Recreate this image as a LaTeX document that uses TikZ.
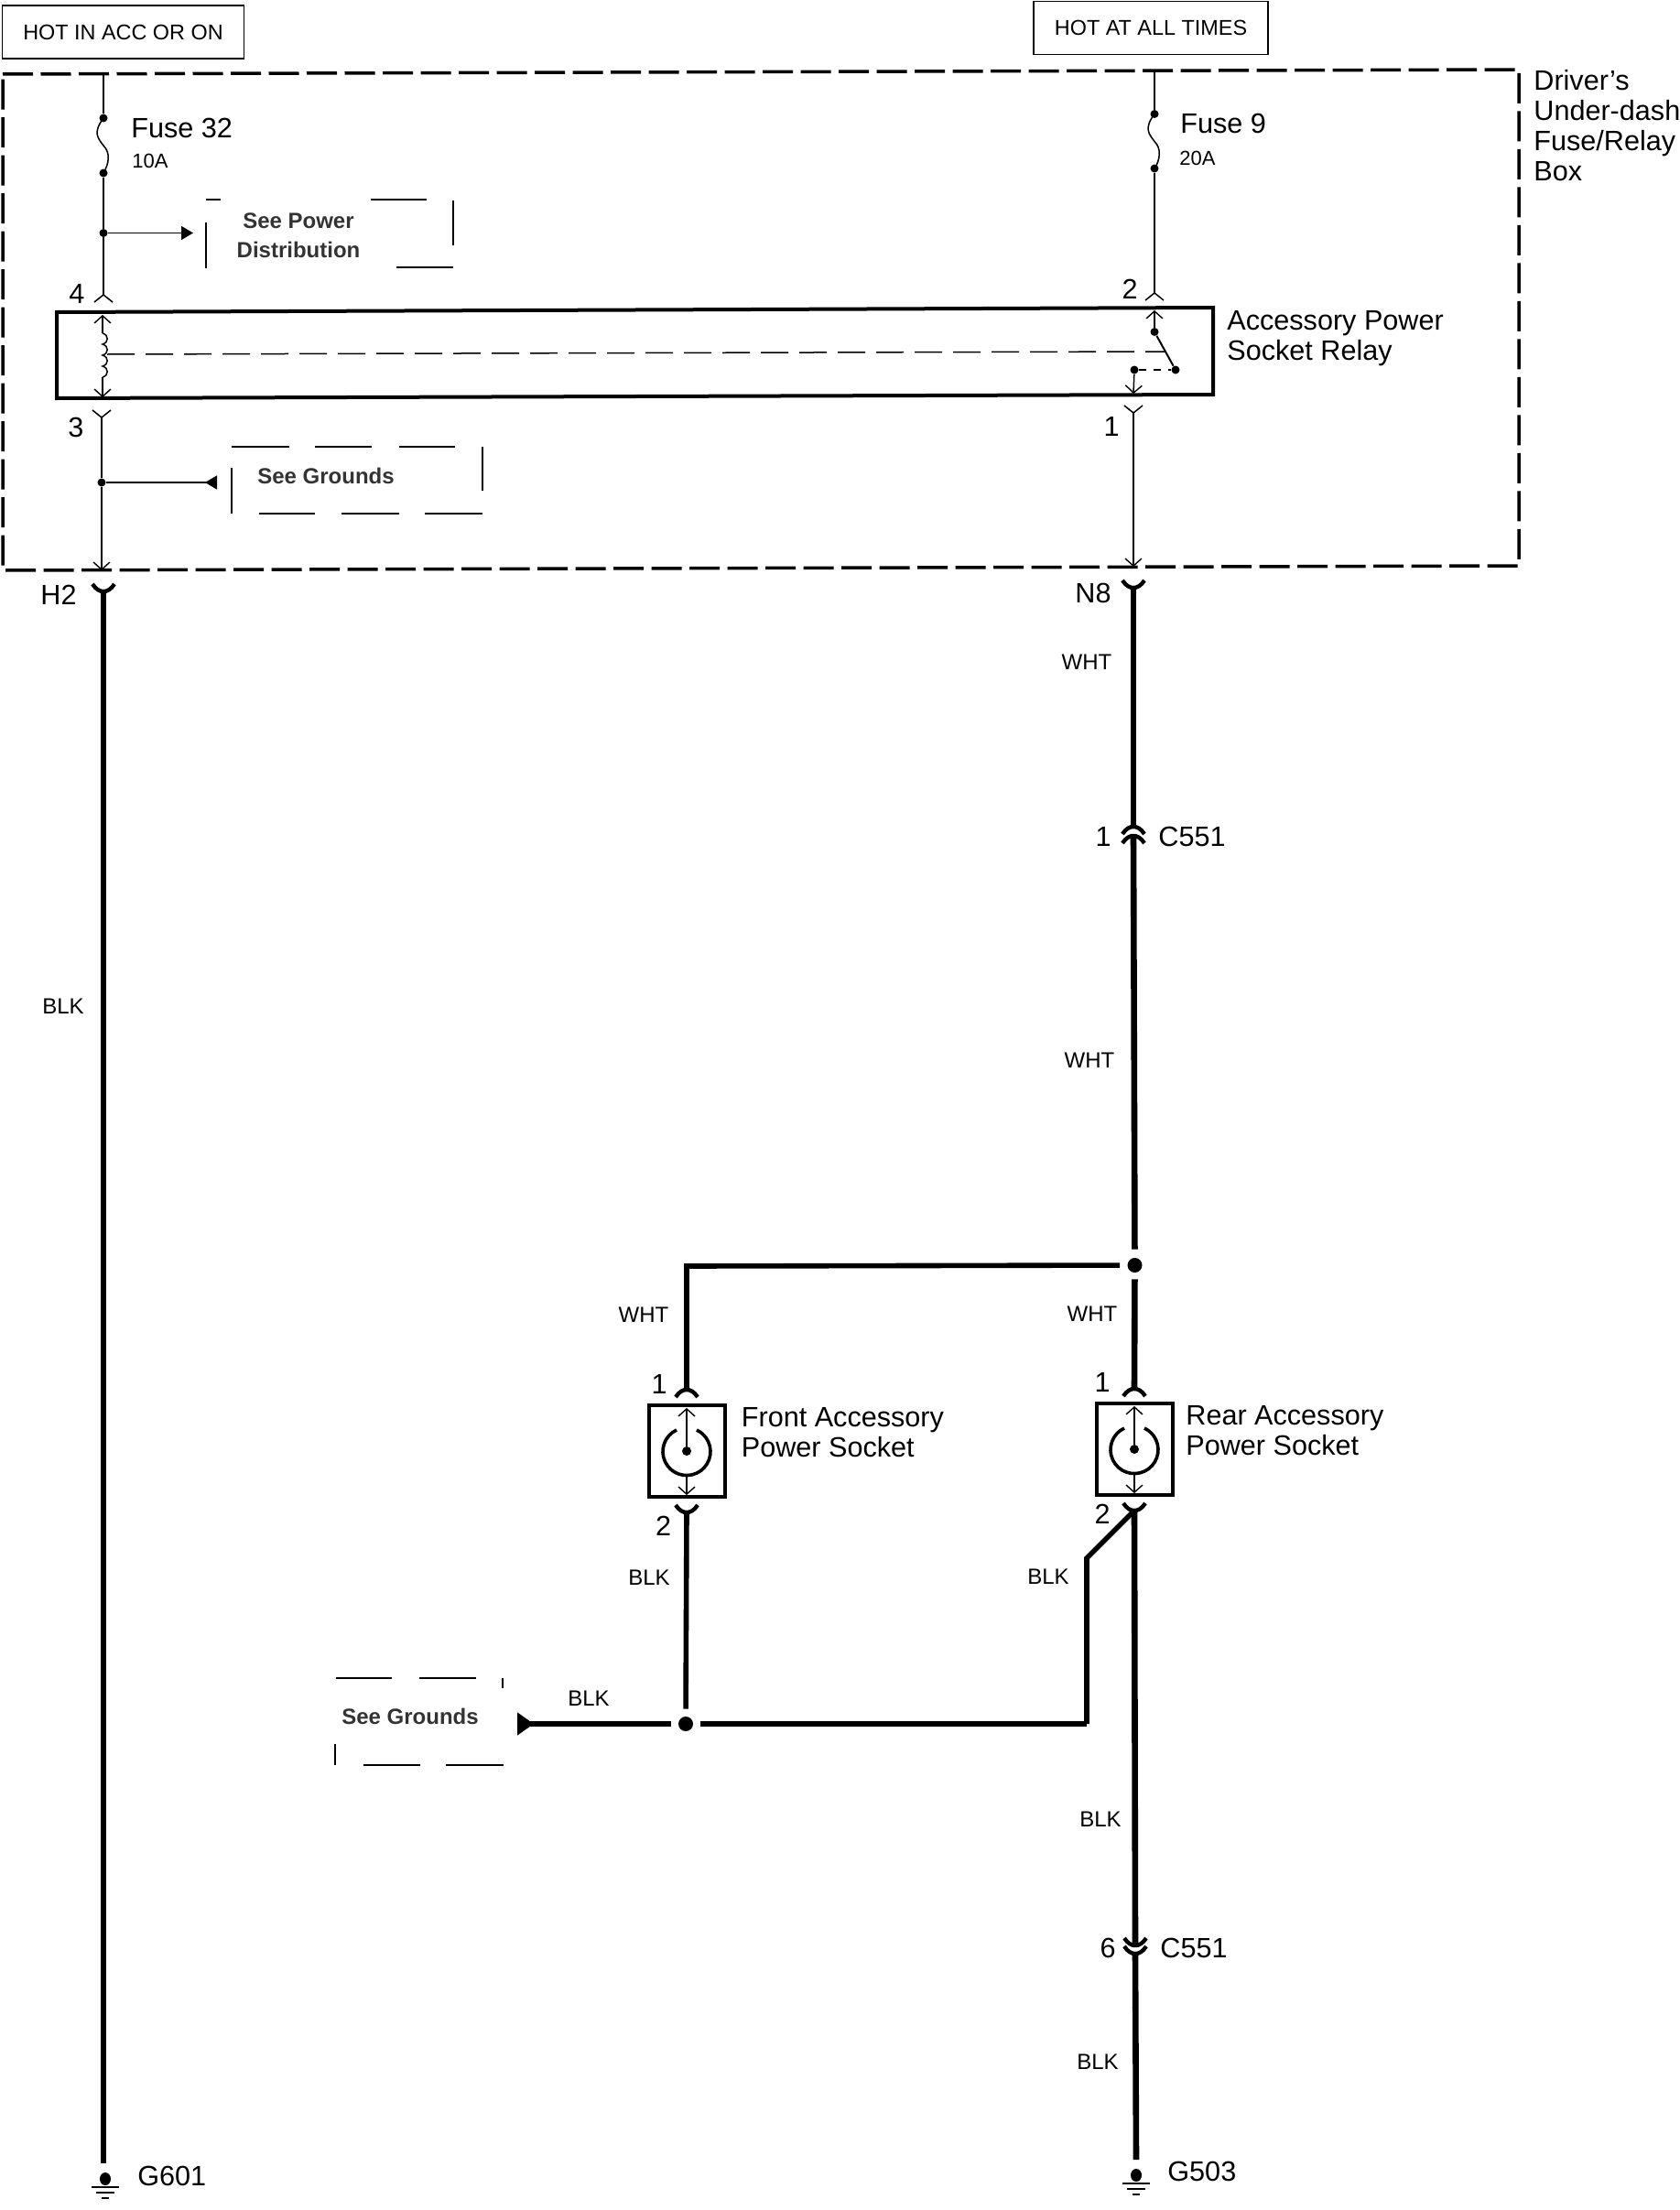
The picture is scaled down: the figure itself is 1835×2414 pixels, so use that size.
\documentclass[tikz,border=0pt]{standalone}
\usepackage{fontspec}
\setmainfont{Liberation Sans}
\usetikzlibrary{arrows.meta}
\newcommand{\sizeA}{\fontsize{15.3}{16.6}\selectfont}
\newcommand{\sizeB}{\fontsize{12}{16}\selectfont}
\newcommand{\sizeC}{\fontsize{11}{13}\selectfont}
\newcommand{\sizeD}{\fontsize{11.7}{14}\selectfont}
\tikzset{
boxedge/.style={line width=1.75pt, dash pattern=on 16.5pt off 4.25pt},
thinwire/.style={line width=.75pt},
wire/.style={line width=3.3pt},
midwire/.style={line width=2.8pt},
barbtip/.style={-{Straight Barb[length=4pt,width=9pt,line width=.7pt]}},
triangletip/.style={-{Triangle[length=6.5pt,width=7.5pt]}},
backtip/.style={-{Triangle[reversed,length=6.5pt,width=7.5pt]}},
backtipbig/.style={-{Triangle[reversed,length=9pt,width=12pt]}},
jdot/.style={circle, fill=black, inner sep=0pt, minimum size=4.5pt},
bigdot/.style={circle, fill=black, inner sep=0pt, minimum size=8pt},
hotbox/.style={draw, line width=.8pt, minimum width=132pt, minimum height=29pt, inner sep=0pt, font=\sizeD},
partname/.style={anchor=west, inner sep=0pt, align=left, font=\sizeA},
amps/.style={anchor=west, inner sep=0pt, font=\sizeC},
pinlabel/.style={inner sep=0pt, font=\sizeA},
wirelabel/.style={inner sep=0pt, font=\sizeB},
seelabel/.style={inner sep=0pt, align=center, text=black!80, font=\sizeB\bfseries},
seeline/.style={line width=.65pt},
socketbox/.style={draw, line width=2pt, minimum width=41.5pt, minimum height=50pt, inner sep=0pt},
pinthin/.pic={\draw[thinwire] (-10,8) -- (0,0) -- (10,8);},
pinthick/.pic={\draw[line width=2.2pt] (-12,8) .. controls (-8,2) and (-4,0) .. (0,0) .. controls (4,0) and (8,2) .. (12,8);},
fusewave/.pic={\draw[thinwire] (0,0) .. controls (-12,16) and (-6,22) .. (0,30) .. controls (8,38) and (6,50) .. (0,60);},
ground/.pic={
	\fill (0,0) ellipse [x radius=3pt, y radius=3.5pt];
	\draw[line width=.8pt] (-15,9) -- (15,9);
	\draw[line width=.8pt] (-10,15) -- (10,15);
	\draw[line width=.8pt] (-4,21) -- (4,21);
},
}
\begin{document}
\begin{tikzpicture}[x=.5pt, y=-.5pt]
\useasboundingbox (0,0) rectangle (1835,2414);

% supply boxes
\node[hotbox] (hotacc) at (134.5,35) {HOT IN ACC OR ON};
\node[hotbox, minimum width=128pt] (hotall) at (1257,30.5) {HOT AT ALL TIMES};

% fuse/relay box
\draw[boxedge] (3,81) -- (1659,76) -- (1659,618) -- (3,623) -- cycle;
\node[partname] (boxname) at (1675,137) {Driver's\\Under-dash\\Fuse/Relay\\Box};

% left branch inside the box
\coordinate (leftin) at (113,81);
\node[jdot] (fuse32a) at (113,129) {};
\node[jdot] (fuse32b) at (113,189) {};
\node[jdot] (leftsplit) at (113,254.5) {};
\coordinate (pin4) at (113,322);
\pic at (fuse32a) {fusewave};
\draw[thinwire] (leftin) -- (fuse32a);
\draw[thinwire] (fuse32b) -- (leftsplit) -- (pin4);
\pic at (pin4) {pinthin};
\node[partname] (fuse32) at (143,140) {Fuse 32};
\node[amps] (amps10) at (144,176) {10A};
\node[pinlabel] (lab4) at (84,321) {4};
\coordinate (powerend) at (211,254.5);
\draw[thinwire, triangletip] (leftsplit) -- (powerend);
\node[seelabel] (seepower) at (326,257) {See Power\\Distribution};
\draw[seeline] (225,218) -- (241,218) (405,218) -- (466,218) (495,219) -- (495,268)
	(225,243) -- (225,293) (433,292) -- (495,292);

% relay
\draw[line width=2pt] (62,341) -- (1325,336) -- (1325,431) -- (62,435) -- cycle;
\node[partname] (relayname) at (1340,370) {Accessory Power\\Socket Relay};
\coordinate (coiltop) at (112,344);
\coordinate (coilbot) at (112,434);
\coordinate (coila) at (112,364);
\coordinate (coilb) at (112,412);
\draw[thinwire, barbtip] (coila) -- (coiltop);
\draw[thinwire, barbtip] (coilb) -- (coilbot);
\draw[thinwire] (coila) \foreach \i in {1,...,4} { .. controls +(7,2) and +(7,-2) .. ++(0,12) };
\coordinate (coilmid) at (117,387);
\coordinate (switchmid) at (1273,384);
\draw[thinwire, dash pattern=on 15pt off 6pt] (coilmid) -- (switchmid);
\coordinate (swtip) at (1261,339);
\coordinate (swout) at (1238,430);
\node[jdot] (swa) at (1261,362.5) {};
\node[jdot] (swb) at (1284,404) {};
\node[jdot] (swc) at (1239,404) {};
\draw[thinwire, barbtip] (swa) -- (swtip);
\draw[line width=1pt] (swa) -- (swb);
\draw[thinwire, dash pattern=on 4pt off 4pt] (swc) -- (swb);
\draw[thinwire, barbtip] (swc) -- (swout);

% right branch inside the box
\coordinate (rightin) at (1261,77);
\node[jdot] (fuse9a) at (1261,124.5) {};
\node[jdot] (fuse9b) at (1261,184) {};
\coordinate (pin2) at (1261,320);
\pic at (fuse9a) {fusewave};
\draw[thinwire] (rightin) -- (fuse9a);
\draw[thinwire] (fuse9b) -- (pin2);
\pic at (pin2) {pinthin};
\node[partname] (fuse9) at (1289,135) {Fuse 9};
\node[amps] (amps20) at (1288,173) {20A};
\node[pinlabel] (lab2) at (1234,316) {2};

% relay outputs
\coordinate (pin3) at (111,456);
\coordinate (pin1) at (1238,451);
\coordinate (leftout) at (111,623);
\coordinate (rightout) at (1238,619);
\pic[yscale=-1] at (pin3) {pinthin};
\pic[yscale=-1] at (pin1) {pinthin};
\node[pinlabel] (lab3) at (83,467) {3};
\node[pinlabel] (lab1) at (1214,466) {1};
\node[jdot] (leftgnd) at (111,527) {};
\draw[thinwire] (pin3) -- (leftgnd);
\draw[thinwire, barbtip] (leftgnd) -- (leftout);
\draw[thinwire, barbtip] (pin1) -- (rightout);
\coordinate (gndend) at (237,527);
\draw[thinwire, backtip] (leftgnd) -- (gndend);
\node[seelabel] (seegnd) at (356,520) {See Grounds};
\draw[seeline] (253,488) -- (316,488) (344,488) -- (406,488) (436,488) -- (497,488)
	(527,488) -- (527,536) (253,511) -- (253,561)
	(283,561) -- (344,561) (373,561) -- (436,561) (464,561) -- (527,561);

% left harness
\coordinate (h2) at (113,646);
\coordinate (g601top) at (113,2363);
\draw[wire] (h2) -- (g601top);
\pic[yscale=-1] at (h2) {pinthick};
\node[pinlabel] (labh2) at (64,650) {H2};
\node[wirelabel] (blkleft) at (69,1099) {BLK};
\pic at (115,2380) {ground};
\node[partname] (g601) at (150,2377) {G601};

% right harness
\coordinate (n8) at (1238,642);
\coordinate (c551a) at (1238,903);
\coordinate (c551b) at (1238,913);
\node[bigdot] (rearsplit) at (1239.5,1382) {};
\coordinate (rear1) at (1239,1517);
\draw[wire] (n8) -- (c551a);
\draw[wire, shorten >=4.5pt] (c551b) -- (rearsplit);
\draw[wire, shorten <=3.5pt] (rearsplit) -- (rear1);
\pic[yscale=-1] at (n8) {pinthick};
\pic at (c551a) {pinthick};
\pic at (c551b) {pinthick};
\node[pinlabel] (labn8) at (1194,648) {N8};
\node[pinlabel] (labc1) at (1205,914) {1};
\node[partname] (c551up) at (1265,914) {C551};
\node[wirelabel] (whta) at (1187,723) {WHT};
\node[wirelabel] (whtb) at (1190,1158) {WHT};
\node[wirelabel] (whtc) at (1193,1435) {WHT};

% front socket
\coordinate (frontcorner) at (750,1383);
\coordinate (front1) at (750,1518);
\draw[midwire, shorten <=4pt, line join=miter] (rearsplit) -- (frontcorner) -- (front1);
\pic at (front1) {pinthick};
\node[wirelabel] (whtd) at (703,1436) {WHT};
\node[pinlabel] (labf1) at (720,1512) {1};
\node[socketbox] (frontbox) at (750.5,1585) {};
\node[jdot, minimum size=5pt] (frontpin) at (750,1585) {};
\coordinate (fronttop) at (750,1538);
\coordinate (frontarc) at (750,1610);
\coordinate (frontlow) at (750,1633);
\draw[thinwire, barbtip] (frontpin) -- (fronttop);
\draw[thinwire, barbtip] (frontarc) -- (frontlow);
\draw[line width=1.8pt] (739,1562) arc [start angle=115, end angle=425, radius=13pt];
\node[partname] (frontname) at (809.5,1565) {Front Accessory\\Power Socket};
\coordinate (front2) at (750,1652);
\pic[yscale=-1] at (front2) {pinthick};
\node[pinlabel] (labf2) at (724.5,1667) {2};
\node[wirelabel] (blkf) at (709,1723) {BLK};

% rear socket
\pic at (rear1) {pinthick};
\node[pinlabel] (labr1) at (1204,1510) {1};
\node[socketbox] (rearbox) at (1239,1583) {};
\node[jdot, minimum size=5pt] (rearpin) at (1239,1583) {};
\coordinate (reartop) at (1239,1536);
\coordinate (reararc) at (1239,1608);
\coordinate (rearlow) at (1239,1631);
\draw[thinwire, barbtip] (rearpin) -- (reartop);
\draw[thinwire, barbtip] (reararc) -- (rearlow);
\draw[line width=1.8pt] (1228,1560) arc [start angle=115, end angle=425, radius=13pt];
\node[partname] (rearname) at (1295,1563) {Rear Accessory\\Power Socket};
\coordinate (rear2) at (1239,1650);
\pic[yscale=-1] at (rear2) {pinthick};
\node[pinlabel] (labr2) at (1204,1654) {2};

% ground splice
\node[bigdot] (gsplice) at (749,1883) {};
\coordinate (seeend) at (565,1883);
\coordinate (spliceup) at (1187,1883);
\coordinate (splicebend) at (1187,1702);
\draw[midwire, shorten <=4pt] (gsplice) -- (front2);
\draw[wire, shorten <=4pt, backtipbig] (gsplice) -- (seeend);
\draw[wire, shorten <=4pt] (gsplice) -- (spliceup);
\draw[midwire] (spliceup) -- (splicebend) -- (rear2);
\node[wirelabel] (blkg) at (643,1855) {BLK};
\node[wirelabel] (blkr) at (1145,1722) {BLK};
\node[seelabel] (seegnd2) at (448,1875) {See Grounds};
\draw[seeline] (367,1833) -- (428,1833) (458,1833) -- (520,1833) (549,1833) -- (549,1844)
	(366,1905) -- (366,1928) (397,1928) -- (459,1928) (487,1928) -- (550,1928);

% lower right harness
\coordinate (c551c) at (1240,2125);
\coordinate (c551d) at (1240,2134);
\coordinate (g503top) at (1241,2359);
\draw[wire] (rear2) -- (c551c);
\draw[wire] (c551d) -- (g503top);
\pic[yscale=-1] at (c551c) {pinthick};
\pic[yscale=-1] at (c551d) {pinthick};
\node[pinlabel] (labc6) at (1210,2128) {6};
\node[partname] (c551low) at (1267,2128) {C551};
\node[wirelabel] (blkc) at (1202,1987) {BLK};
\node[wirelabel] (blkd) at (1199,2252) {BLK};
\pic at (1241,2376) {ground};
\node[partname] (g503) at (1275,2372) {G503};
\end{tikzpicture}
\end{document}
